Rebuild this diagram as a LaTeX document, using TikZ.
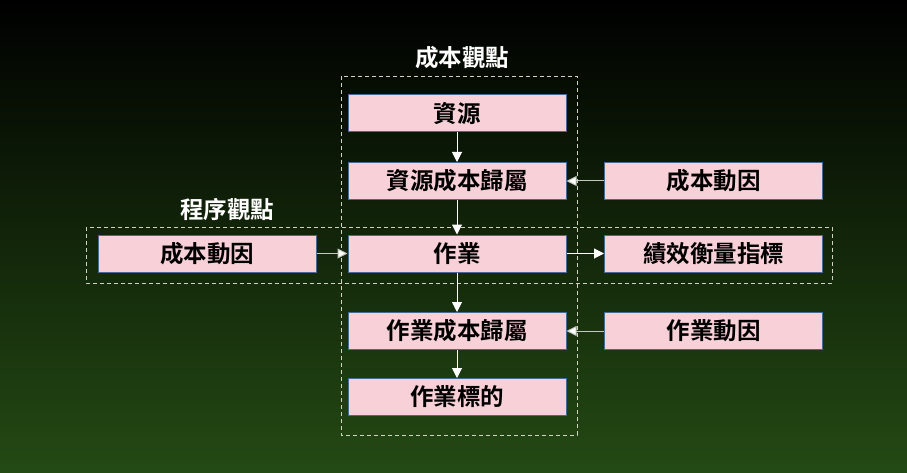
\documentclass[tikz,border=0pt]{standalone}
\usepackage{fontspec}
\usepackage{xcolor}
\usetikzlibrary{arrows.meta, positioning}
\setmainfont{Noto Sans CJK TC}[BoldFont={Noto Sans CJK TC Bold}]
\definecolor{boxfill}{HTML}{F8D0D8}
\definecolor{boxline}{HTML}{4A6896}
\definecolor{viewline}{HTML}{D2D2C2}
\definecolor{bgbottom}{RGB}{36,74,20}
\definecolor{feedline}{HTML}{C4C8C0}

\begin{document}
\begin{tikzpicture}[x=1pt, y=-1pt,
  block/.style={draw=boxline, fill=boxfill, line width=1pt, rectangle, minimum height=37pt, minimum width=218pt, align=center, font=\fontsize{23.5}{27}\selectfont\bfseries, text=black, inner sep=0pt},
  view/.style={draw=viewline, dashed, line width=0.9pt, dash pattern=on 4pt off 3pt},
  viewlabel/.style={text=white, font=\fontsize{23.5}{27}\selectfont\bfseries, inner sep=0pt},
  arrow/.style={-{Triangle[length=10pt, width=10pt]}, white, line width=1pt},
  feed/.style={-{Triangle[length=10pt, width=10pt, fill=white]}, draw=feedline, line width=1pt}
]
% background
\useasboundingbox (0,0) rectangle (907,473);
\shade[top color=black, bottom color=bgbottom] (0,0) rectangle (907,473);

% cost view (vertical)
\draw[view] (341,76) rectangle (577,435);
\node[viewlabel] (costview) at (462,58) {成本觀點};

% process view (horizontal)
\draw[view] (86,227) rectangle (832,283);
\node[viewlabel] (procview) at (227,210) {程序觀點};

% middle column
\node[block] (res) at (457,113.5) {資源};
\node[block] (resassign) at (457,181) {資源成本歸屬};
\node[block] (act) at (457,253.5) {作業};
\node[block] (actassign) at (457,331) {作業成本歸屬};
\node[block] (actobj) at (457,397) {作業標的};

% side boxes
\node[block] (costdrvR) at (713.5,181) {成本動因};
\node[block] (costdrvL) at (207,253.5) {成本動因};
\node[block] (kpi) at (713.5,253.5) {績效衡量指標};
\node[block] (actdrv) at (713.5,331) {作業動因};

% flow
\draw[arrow] (res) -- (resassign);
\draw[arrow] (resassign) -- (act);
\draw[arrow] (act) -- (actassign);
\draw[arrow] (actassign) -- (actobj);
\draw[arrow] (act) -- (kpi);
\draw[feed] (costdrvR) -- (resassign);
\draw[feed] (costdrvL) -- (act);
\draw[feed] (actdrv) -- (actassign);

\end{tikzpicture}
\end{document}
